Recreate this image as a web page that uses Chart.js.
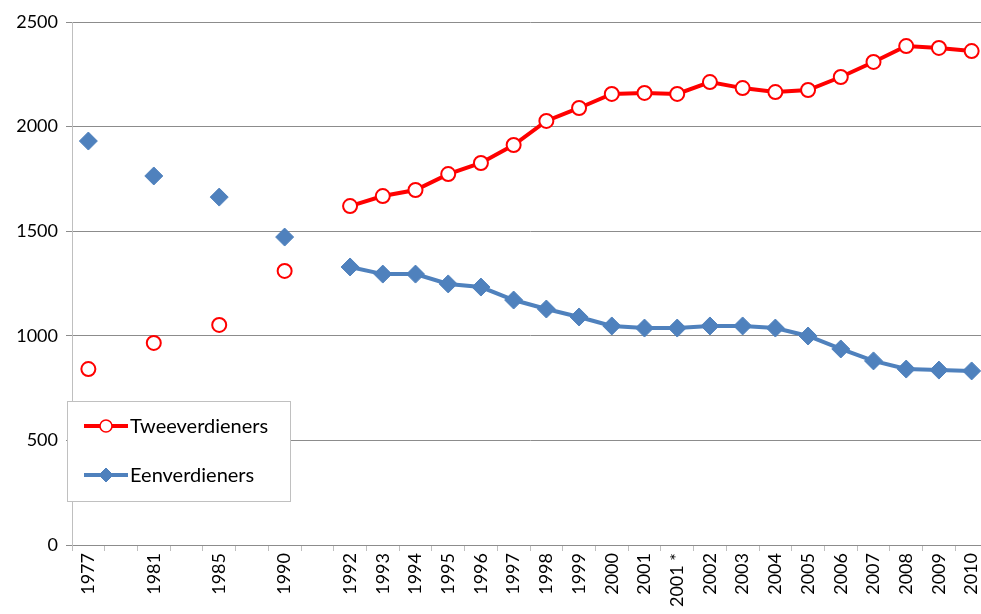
<!DOCTYPE html>
<html>
<head>
<meta charset="utf-8">
<script src="https://cdn.jsdelivr.net/npm/chart.js@4/dist/chart.umd.min.js"></script>
<style>
    html, body { margin: 0; padding: 0; background: #fff; overflow: hidden; }
    #wrap { width: 998px; height: 614px; }
</style>
</head>
<body>
<div id="wrap"><canvas id="chart" width="998" height="614"></canvas></div>
<script>
// Categorieen (lege plekken tussen de oude jaren)
const labels = ['1977', '', '1981', '', '1985', '', '1990', '',
    '1992', '1993', '1994', '1995', '1996', '1997', '1998', '1999', '2000', '2001',
    '2001 *', '2002', '2003', '2004', '2005', '2006', '2007', '2008', '2009', '2010'];

const tweeverdieners = [841, null, 966, null, 1052, null, 1310, null,
    1620, 1668, 1697, 1773, 1826, 1912, 2027, 2089, 2156, 2161,
    2156, 2213, 2184, 2165, 2175, 2237, 2309, 2385, 2376, 2361];

const eenverdieners = [1931, null, 1764, null, 1663, null, 1472, null,
    1329, 1295, 1295, 1248, 1233, 1171, 1128, 1090, 1047, 1037,
    1037, 1047, 1047, 1037, 999, 937, 880, 841, 836, 832];

const yTicks = [0, 500, 1000, 1500, 2000, 2500];

const FONT = 'Lato, "Liberation Sans", sans-serif';
const RED = '#ff0000';
const BLUE = '#4f81bd';

// Legenda in het grafiekvlak, linksonder
const boxLegend = {
    id: 'boxLegend',
    afterDraw(chart) {
        const ctx = chart.ctx;
        const items = [
            { text: 'Tweeverdieners', color: RED, style: 'circle', fill: '#fff', radius: 6, border: 1.5 },
            { text: 'Eenverdieners', color: BLUE, style: 'rectRot', fill: BLUE, radius: 7, border: 1 }
        ];
        ctx.save();
        ctx.fillStyle = '#fff';
        ctx.strokeStyle = '#c0c0c0';
        ctx.lineWidth = 1;
        ctx.fillRect(67.5, 401.5, 223, 100);
        ctx.strokeRect(67.5, 401.5, 223, 100);

        items.forEach((it, i) => {
            const y = 426 + i * 49;
            ctx.strokeStyle = it.color;
            ctx.lineWidth = 4;
            ctx.beginPath();
            ctx.moveTo(84, y);
            ctx.lineTo(128, y);
            ctx.stroke();

            ctx.fillStyle = it.fill;
            ctx.strokeStyle = it.color;
            ctx.lineWidth = it.border;
            Chart.helpers.drawPoint(ctx, { pointStyle: it.style, radius: it.radius, rotation: 0, borderWidth: it.border }, 106, y);

            ctx.fillStyle = '#000';
            ctx.font = '20px ' + FONT;
            ctx.textBaseline = 'middle';
            ctx.textAlign = 'left';
            ctx.fillText(it.text, 130, y + 1);
        });
        ctx.restore();
    }
};

new Chart(document.getElementById('chart'), {
    type: 'line',
    data: {
        labels: labels,
        datasets: [
            {
                label: 'Tweeverdieners',
                data: tweeverdieners,
                borderColor: RED,
                borderWidth: 4,
                pointStyle: 'circle',
                pointRadius: 7,
                pointBorderWidth: 2,
                pointBackgroundColor: '#fff',
                pointBorderColor: RED,
                spanGaps: false,
                tension: 0
            },
            {
                label: 'Eenverdieners',
                data: eenverdieners,
                borderColor: BLUE,
                borderWidth: 4,
                pointStyle: 'rectRot',
                pointRadius: 9,
                pointBorderWidth: 1,
                pointBackgroundColor: BLUE,
                pointBorderColor: BLUE,
                spanGaps: false,
                tension: 0
            }
        ]
    },
    options: {
        responsive: false,
        animation: false,
        layout: { padding: { top: 22, right: 0, left: 0, bottom: 0 } },
        plugins: {
            legend: { display: false },
            tooltip: { enabled: false }
        },
        scales: {
            x: {
                offset: true,
                grid: {
                    offset: true,
                    drawOnChartArea: false,
                    drawTicks: true,
                    tickLength: 6,
                    color: '#bfbfbf'
                },
                border: { display: true, color: '#8c8c8c' },
                ticks: {
                    autoSkip: false,
                    minRotation: 90,
                    maxRotation: 90,
                    padding: 2,
                    color: '#000',
                    font: { family: FONT, size: 18 }
                },
                afterFit(scale) { scale.height = 69; }
            },
            y: {
                min: 0,
                max: 2500,
                afterBuildTicks(scale) { scale.ticks = yTicks.map(v => ({ value: v })); },
                grid: {
                    color: '#8c8c8c',
                    tickLength: 6,
                    tickColor: '#8c8c8c'
                },
                border: { display: true, color: '#bfbfbf' },
                ticks: {
                    padding: 8,
                    color: '#000',
                    font: { family: FONT, size: 18 },
                    callback: v => String(v)
                },
                afterFit(scale) { scale.width = 72; }
            }
        }
    },
    plugins: [boxLegend]
});
</script>
</body>
</html>
